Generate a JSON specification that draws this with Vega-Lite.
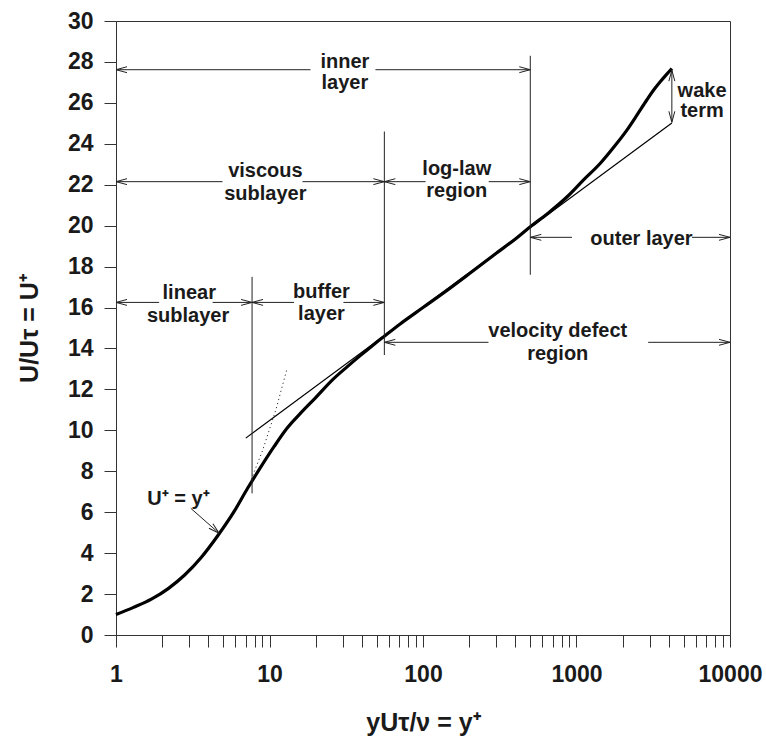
{
  "$schema": "https://vega.github.io/schema/vega-lite/v6.json",
  "width": 614,
  "height": 614,
  "autosize": "none",
  "padding": {"left": 116, "top": 21, "right": 36, "bottom": 103},
  "background": "white",
  "config": {
    "font": "Liberation Sans",
    "view": {"stroke": "#333", "strokeWidth": 1},
    "axis": {"grid": false, "domainColor": "#333", "tickColor": "#333", "labelColor": "#1a1a1a", "titleColor": "#1a1a1a"}
  },
  "datasets": {
    "curve": [
      {"x": 1, "y": 1.0}, {"x": 1.3, "y": 1.35}, {"x": 1.7, "y": 1.75}, {"x": 2.2, "y": 2.28},
      {"x": 2.8, "y": 2.93}, {"x": 3.6, "y": 3.8}, {"x": 4.6, "y": 4.85}, {"x": 5.9, "y": 6.05},
      {"x": 7.2, "y": 7.17}, {"x": 8.4, "y": 7.98}, {"x": 10.7, "y": 9.2}, {"x": 13, "y": 10.1},
      {"x": 16, "y": 10.85}, {"x": 20, "y": 11.6}, {"x": 26, "y": 12.5}, {"x": 32, "y": 13.1},
      {"x": 39, "y": 13.65}, {"x": 47, "y": 14.15}, {"x": 56, "y": 14.6}, {"x": 71, "y": 15.2},
      {"x": 100, "y": 16.0}, {"x": 150, "y": 16.95}, {"x": 200, "y": 17.65}, {"x": 300, "y": 18.65},
      {"x": 400, "y": 19.35}, {"x": 500, "y": 19.95}, {"x": 650, "y": 20.6}, {"x": 866, "y": 21.4},
      {"x": 1100, "y": 22.2}, {"x": 1430, "y": 23.05}, {"x": 1800, "y": 23.95}, {"x": 2130, "y": 24.67},
      {"x": 2500, "y": 25.45}, {"x": 2870, "y": 26.14}, {"x": 3200, "y": 26.65}, {"x": 3510, "y": 27.03},
      {"x": 3850, "y": 27.38}, {"x": 4180, "y": 27.68}
    ],
    "loglaw": [{"x": 7.0, "y": 9.62}, {"x": 4180, "y": 25.02}],
    "dotted": [{"x": 7.6, "y": 7.6}, {"x": 9, "y": 9}, {"x": 11, "y": 11}, {"x": 13, "y": 13}],
    "segs": [
      {"x": 1, "x2": 18.5, "y": 27.62, "y2": 27.62},
      {"x": 49, "x2": 500, "y": 27.62, "y2": 27.62},
      {"x": 1, "x2": 4.94, "y": 22.15, "y2": 22.15},
      {"x": 16.4, "x2": 56, "y": 22.15, "y2": 22.15},
      {"x": 56, "x2": 104, "y": 22.15, "y2": 22.15},
      {"x": 268, "x2": 500, "y": 22.15, "y2": 22.15},
      {"x": 1, "x2": 1.91, "y": 16.25, "y2": 16.25},
      {"x": 4.26, "x2": 7.7, "y": 16.25, "y2": 16.25},
      {"x": 7.7, "x2": 14.45, "y": 16.25, "y2": 16.25},
      {"x": 30.3, "x2": 56, "y": 16.25, "y2": 16.25},
      {"x": 500, "x2": 934, "y": 19.43, "y2": 19.43},
      {"x": 5660, "x2": 10000, "y": 19.43, "y2": 19.43},
      {"x": 56, "x2": 267, "y": 14.3, "y2": 14.3},
      {"x": 2929, "x2": 10000, "y": 14.3, "y2": 14.3},
      {"x": 7.7, "x2": 7.7, "y": 6.92, "y2": 17.5},
      {"x": 56, "x2": 56, "y": 13.68, "y2": 24.6},
      {"x": 500, "x2": 500, "y": 17.6, "y2": 28.3},
      {"x": 4180, "x2": 4180, "y": 25.05, "y2": 27.6},
      {"x": 3.07, "x2": 4.7, "y": 6.19, "y2": 4.97}
    ],
    "heads": [
      {"x": 1, "y": 27.62, "dir": "left"},
      {"x": 1, "y": 22.15, "dir": "left"},
      {"x": 56, "y": 22.15, "dir": "left"},
      {"x": 1, "y": 16.25, "dir": "left"},
      {"x": 7.7, "y": 16.25, "dir": "left"},
      {"x": 500, "y": 19.43, "dir": "left"},
      {"x": 56, "y": 14.3, "dir": "left"},
      {"x": 500, "y": 27.62, "dir": "right"},
      {"x": 56, "y": 22.15, "dir": "right"},
      {"x": 500, "y": 22.15, "dir": "right"},
      {"x": 7.7, "y": 16.25, "dir": "right"},
      {"x": 56, "y": 16.25, "dir": "right"},
      {"x": 10000, "y": 19.43, "dir": "right"},
      {"x": 10000, "y": 14.3, "dir": "right"},
      {"x": 4180, "y": 27.6, "dir": "up"},
      {"x": 4180, "y": 25.05, "dir": "down"},
      {"x": 4.7, "y": 4.97, "dir": "diag"}
    ],
    "labels": [
      {"x": 31, "y": 27.68, "text": "inner"},
      {"x": 31, "y": 26.7, "text": "layer"},
      {"x": 9.4, "y": 22.36, "text": "viscous"},
      {"x": 9.4, "y": 21.25, "text": "sublayer"},
      {"x": 166, "y": 22.5, "text": "log-law"},
      {"x": 166, "y": 21.41, "text": "region"},
      {"x": 3.0, "y": 16.4, "text": "linear"},
      {"x": 2.95, "y": 15.31, "text": "sublayer"},
      {"x": 21.8, "y": 16.45, "text": "buffer"},
      {"x": 21.8, "y": 15.39, "text": "layer"},
      {"x": 755, "y": 14.54, "text": "velocity defect"},
      {"x": 755, "y": 13.43, "text": "region"},
      {"x": 2650, "y": 19.05, "text": "outer layer"},
      {"x": 6577, "y": 26.3, "text": "wake"},
      {"x": 6577, "y": 25.3, "text": "term"},
      {"x": 2.55, "y": 6.35, "text": "U⁺ = y⁺"}
    ]
  },
  "encoding": {
    "x": {
      "field": "x", "type": "quantitative",
      "scale": {"type": "log", "domain": [1, 10000]},
      "axis": {
        "title": "yUτ/ν = y⁺",
        "values": [1,2,3,4,5,6,7,8,9,10,20,30,40,50,60,70,80,90,100,200,300,400,500,600,700,800,900,1000,2000,3000,4000,5000,6000,7000,8000,9000,10000],
        "format": "d",
        "labelExpr": "indexof([1,10,100,1000,10000], datum.value) >= 0 ? datum.label : ''",
        "labelOverlap": false,
        "labelFlush": false,
        "tickSize": 12,
        "labelPadding": 16,
        "labelFontSize": 23,
        "labelFontWeight": "bold",
        "titleFontSize": 25,
        "titleFontWeight": "bold",
        "titlePadding": 24,
        "encode": {"ticks": {"update": {"y2": {"signal": "indexof([1,10,100,1000,10000], datum.value) >= 0 ? 12 : 7"}}}}
      }
    },
    "y": {
      "field": "y", "type": "quantitative",
      "scale": {"domain": [0, 30]},
      "axis": {
        "title": "U/Uτ = U⁺",
        "values": [0,2,4,6,8,10,12,14,16,18,20,22,24,26,28,30],
        "tickSize": 12,
        "labelPadding": 11,
        "labelFontSize": 23,
        "labelFontWeight": "bold",
        "titleFontSize": 25,
        "titleFontWeight": "bold",
        "titlePadding": 25
      }
    }
  },
  "layer": [
    {"data": {"name": "curve"}, "mark": {"type": "line", "color": "black", "strokeWidth": 3.2, "interpolate": "monotone"}},
    {"data": {"name": "loglaw"}, "mark": {"type": "line", "color": "black", "strokeWidth": 1.2}},
    {"data": {"name": "dotted"}, "mark": {"type": "line", "color": "#333", "strokeWidth": 1, "strokeDash": [1.2, 3]}},
    {"data": {"name": "segs"}, "mark": {"type": "rule", "color": "#222", "strokeWidth": 1}, "encoding": {"x2": {"field": "x2"}, "y2": {"field": "y2"}}},
    {"data": {"name": "heads"}, "transform": [{"filter": "datum.dir === 'left'"}], "mark": {"type": "point", "shape": "M0,0L1,-0.27M0,0L1,0.27", "size": 484, "filled": false, "stroke": "#222", "strokeWidth": 1, "opacity": 1, "angle": 0}},
    {"data": {"name": "heads"}, "transform": [{"filter": "datum.dir === 'right'"}], "mark": {"type": "point", "shape": "M0,0L1,-0.27M0,0L1,0.27", "size": 484, "filled": false, "stroke": "#222", "strokeWidth": 1, "opacity": 1, "angle": 180}},
    {"data": {"name": "heads"}, "transform": [{"filter": "datum.dir === 'up'"}], "mark": {"type": "point", "shape": "M0,0L1,-0.27M0,0L1,0.27", "size": 484, "filled": false, "stroke": "#222", "strokeWidth": 1, "opacity": 1, "angle": 90}},
    {"data": {"name": "heads"}, "transform": [{"filter": "datum.dir === 'down'"}], "mark": {"type": "point", "shape": "M0,0L1,-0.27M0,0L1,0.27", "size": 484, "filled": false, "stroke": "#222", "strokeWidth": 1, "opacity": 1, "angle": 270}},
    {"data": {"name": "heads"}, "transform": [{"filter": "datum.dir === 'diag'"}], "mark": {"type": "point", "shape": "M0,0L1,-0.27M0,0L1,0.27", "size": 484, "filled": false, "stroke": "#222", "strokeWidth": 1, "opacity": 1, "angle": 221.5}},
    {"data": {"name": "labels"}, "mark": {"type": "text", "font": "Liberation Sans", "fontSize": 20, "fontWeight": "bold", "align": "center", "baseline": "alphabetic", "color": "#1a1a1a"}, "encoding": {"text": {"field": "text"}}}
  ]
}
